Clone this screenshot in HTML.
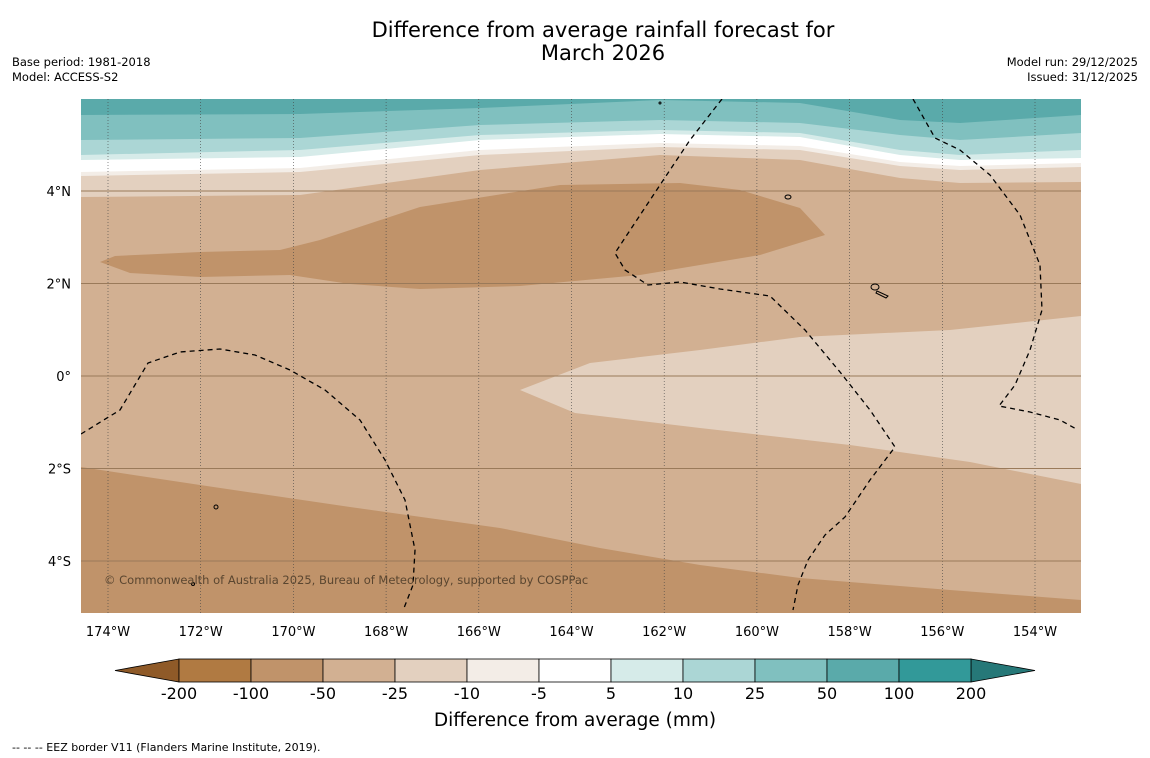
<!DOCTYPE html>
<html><head><meta charset="utf-8"><style>
body{margin:0;background:#fff;font-family:"Liberation Sans","DejaVu Sans",sans-serif;}
#wrap{position:relative;width:1150px;height:758px;overflow:hidden;}
.t{position:absolute;white-space:nowrap;}
</style></head><body>
<div id="wrap">
<div class="t" style="left:0;width:1206px;top:19px;text-align:center;font-size:21px;line-height:23px;font-family:'DejaVu Sans',sans-serif;">Difference from average rainfall forecast for<br>March 2026</div>
<div class="t" style="left:12px;top:55px;font-size:11.5px;line-height:15px;font-family:'DejaVu Sans',sans-serif;">Base period: 1981-2018<br>Model: ACCESS-S2</div>
<div class="t" style="right:12px;top:55px;font-size:11.5px;line-height:15px;text-align:right;font-family:'DejaVu Sans',sans-serif;">Model run: 29/12/2025<br>Issued: 31/12/2025</div>
<svg id="svg" width="1150" height="758" style="position:absolute;left:0;top:0" font-family="DejaVu Sans, sans-serif">
<defs><clipPath id="mc"><rect x="81" y="99" width="1000" height="514"/></clipPath></defs>
<g id="map" clip-path="url(#mc)">
<rect x="81" y="99" width="1000" height="514" fill="#d2b092"/>
<polygon fill="#c0936a" points="100,262 115,256 200,252 280,250 320,240 420,207 560,185 680,183 740,190 800,208 825,235 760,255 640,275 520,286 420,289 350,284 290,275 200,277 130,273"/>
<polygon fill="#e3d0bf" points="520,390 590,363 700,350 800,337 950,330 1081,316 1081,484 970,462 850,445 700,428 575,413"/>
<polygon fill="#c0936a" points="81,467 200,485 350,507 500,528 600,548 700,565 800,578 950,590 1081,600 1081,613 81,613"/>
<g id="bands"></g>
<g id="grid"></g>
<g fill="none" stroke="#000" stroke-width="1.3" stroke-dasharray="5,4">
<polyline points="81,434 120,410 148,363 180,352 220,349 255,355 290,370 325,390 360,420 385,460 405,500 415,550 413,585 404,608"/>
<polyline points="722,99 690,140 660,185 615,253 625,270 648,285 680,282 720,289 770,296 805,330 840,372 870,410 895,447 870,480 845,517 825,535 808,560 798,585 793,610"/>
<polyline points="913,99 935,138 960,150 990,175 1020,215 1040,265 1042,310 1030,350 1015,385 999,406 1030,412 1060,420 1078,430"/>
</g>
<g fill="none" stroke="#000" stroke-width="1">
<ellipse cx="788" cy="197" rx="3" ry="2"/><ellipse cx="875" cy="287" rx="4" ry="3"/><path d="M877,291 L888,296 L886,298 L876,293Z"/>
<ellipse cx="216" cy="507" rx="2" ry="2"/><circle cx="193" cy="584" r="1.5"/><circle cx="660" cy="103" r="1"/>
</g>
</g>
<text x="104" y="584" font-size="11.5" fill="#5a4630">© Commonwealth of Australia 2025, Bureau of Meteorology, supported by COSPPac</text>
<g id="ticks"></g>
<g id="cbar"></g>
<text x="575" y="726" font-size="18.5" text-anchor="middle">Difference from average (mm)</text>
<text x="12" y="751" font-size="11">--  --  -- EEZ border V11 (Flanders Marine Institute, 2019).</text>
</svg>
</div>
<script>
const lonTicks=[-174,-172,-170,-168,-166,-164,-162,-160,-158,-156,-154];
const latTicks=[4,2,0,-2,-4];
const levelLabels=["-200","-100","-50","-25","-10","-5","5","10","25","50","100","200"];
const levelColors=["#b07a42","#c0936a","#d2b092","#e3d0bf","#f3ede7","#ffffff","#d6ebe9","#abd6d5","#80c0bf","#5aaaaa","#329999"];
const extendColors=["#8f5a28","#267878"];
const bandColors=["#5aaaaa","#80c0bf","#abd6d5","#d6ebe9","#ffffff","#f3ede7","#e3d0bf"];
const bandXs=[81,300,480,660,800,900,960,1081];
const bandLower=[[115,114,108,100,103,120,123,115],[140,138,125,120,123,135,140,133],[155,150,135,130,133,150,155,150],[160,157,140,134,137,155,160,158],[172,168,150,143,146,162,166,163],[176,172,155,147,150,166,170,167],[197,195,170,155,160,178,183,182]];
const NS='http://www.w3.org/2000/svg';
const xLon=l=>108+(l+174)*46.35, yLat=l=>376-l*46.25;
function mk(t,a,p){const e=document.createElementNS(NS,t);for(const k in a)e.setAttribute(k,a[k]);p.appendChild(e);return e;}
const bands=document.getElementById('bands');
for(let i=bandLower.length-1;i>=0;i--){
 let d='M81,99 ';bandXs.forEach((x,j)=>d+='L'+x+','+bandLower[i][j]+' ');d+='L1081,99Z';
 const p=mk('path',{d:d,fill:bandColors[i]},bands);
 
 
}
const grid=document.getElementById('grid'),ticks=document.getElementById('ticks');
lonTicks.forEach(l=>{const x=xLon(l);
 const g=mk('line',{x1:x,x2:x,y1:99,y2:613,stroke:'#444','stroke-width':0.6,'stroke-dasharray':'1,2'},grid);
 
 const t=mk('text',{x:x,y:636,'font-size':13,'text-anchor':'middle'},ticks);t.textContent=Math.abs(l)+'°W';
 });
latTicks.forEach(l=>{const y=yLat(l);
 const g=mk('line',{x1:81,x2:1081,y1:y,y2:y,stroke:'#9a7a5a','stroke-width':1},grid);
 
 const t=mk('text',{x:71,y:y+5,'font-size':13,'text-anchor':'end'},ticks);t.textContent=l===0?'0°':Math.abs(l)+'°'+(l>0?'N':'S');
 });
const cb=document.getElementById('cbar');const x0=179,w=72,y0=659,h=23;
const l1=mk('polygon',{points:`${x0},${y0} 115,${y0+h/2} ${x0},${y0+h}`,fill:extendColors[0],stroke:'#000','stroke-width':0.8},cb);

const xe=x0+w*levelColors.length;
const l2=mk('polygon',{points:`${xe},${y0} 1035,${y0+h/2} ${xe},${y0+h}`,fill:extendColors[1],stroke:'#000','stroke-width':0.8},cb);

levelColors.forEach((c,i)=>{const r=mk('rect',{x:x0+i*w,y:y0,width:w,height:h,fill:c,stroke:'#000','stroke-width':0.8},cb);
 });
levelLabels.forEach((s,i)=>{const t=mk('text',{x:x0+i*w,y:699,'font-size':16,'text-anchor':'middle'},cb);t.textContent=s;
 });
</script>
</body></html>
